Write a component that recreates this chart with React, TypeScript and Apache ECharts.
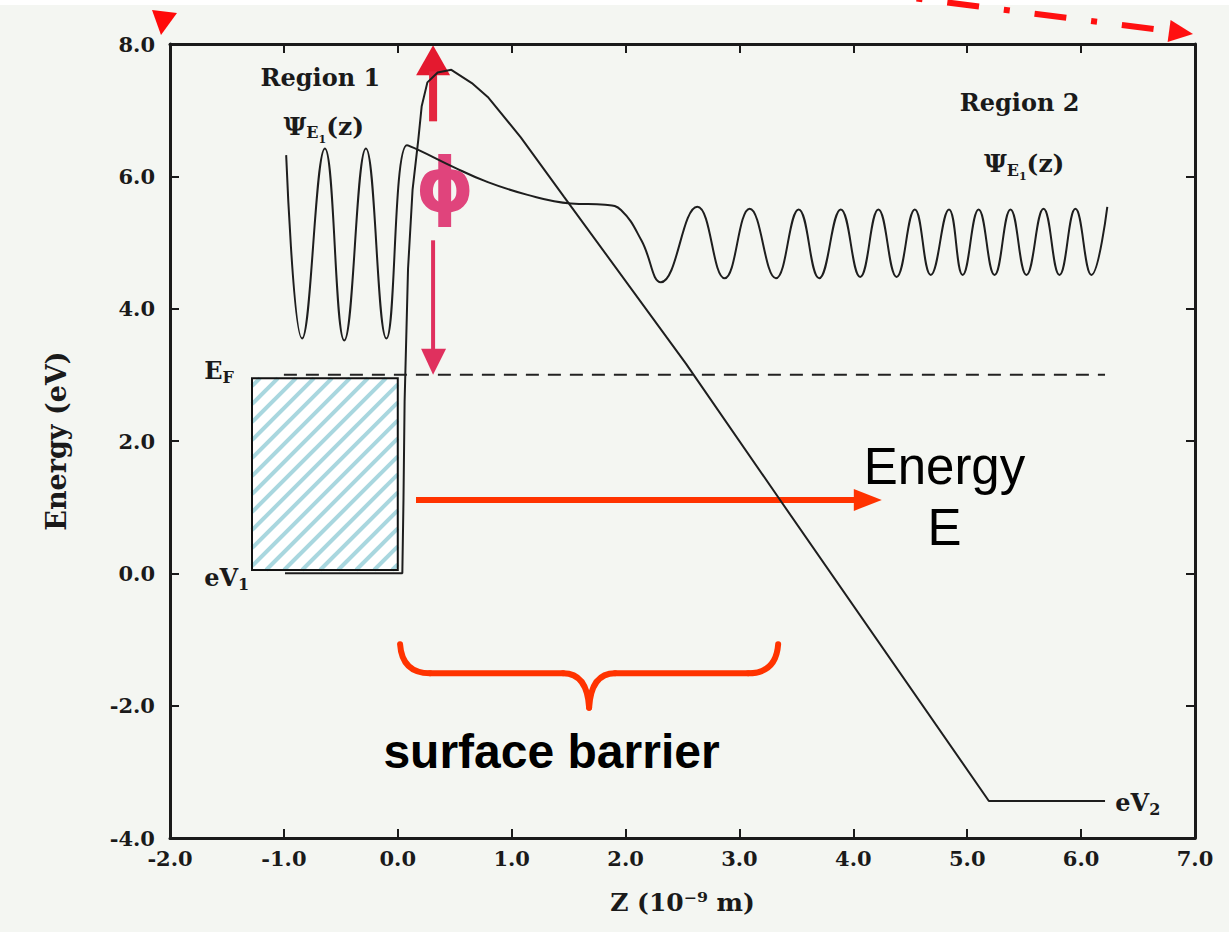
import React, { useEffect, useRef } from "react";
import * as echarts from "echarts";

// ---- Data (x in 10^-9 m, y in eV) ----
const xRange = [-2, 7];
const yRange = [-4, 8];
const potential: number[][] = [
  [-0.99, 0], [0.04, 0], [0.05, 1.1], [0.06, 2.6], [0.09, 4.6], [0.13, 5.8], [0.18, 6.55], [0.21, 7.06],
  [0.26, 7.42], [0.35, 7.57], [0.47, 7.61], [0.65, 7.41], [0.79, 7.2], [1.08, 6.59], [1.46, 5.69],
  [2.53, 3.17], [3.36, 1.1], [5.19, -3.44], [6.21, -3.44],
];
const wavefunction: number[][] = [
  [-0.98, 6.32], [-0.84, 3.55], [-0.64, 6.42], [-0.47, 3.52], [-0.28, 6.42], [-0.1, 3.55],
  [0.08, 6.47], [0.18, 6.4], [0.49, 6.14], [0.78, 5.92], [1.14, 5.72], [1.52, 5.59], [1.82, 5.57],
  [1.96, 5.49], [2.14, 5.03], [2.31, 4.4], [2.63, 5.54], [2.87, 4.46], [3.09, 5.51],
  [3.32, 4.46], [3.52, 5.5], [3.7, 4.46], [3.89, 5.5], [4.06, 4.48], [4.22, 5.5], [4.38, 4.48],
  [4.54, 5.5], [4.68, 4.51], [4.84, 5.5], [4.96, 4.51], [5.1, 5.5], [5.24, 4.51], [5.38, 5.5],
  [5.52, 4.51], [5.67, 5.51], [5.81, 4.51], [5.95, 5.51], [6.09, 4.51], [6.23, 5.54],
];
const fermiLevel = 3.0;
const fermiExtent = [-1.0, 6.21];
// occupied band box: [xStart, xEnd, yStart, yEnd]
const occupiedBand = [[-1.28, 0.0, 0.05, 2.95]];

// ---- Annotation anchors (data units) ----
const workFunctionArrow = { x: 0.31, top: 7.98 };
const energyArrow = { y: 1.11, from: 0.16, to: 4.25 };
const energyLabel = { x: 4.8, y1: 1.61, y2: 0.69 };
const barrierBrace = { from: 0.02, to: 3.34, endY: -1.07, barY: -1.51, tipY: -2.03 };
const barrierLabel = { x: 1.35, y: -2.7 };

const SERIF = "'DejaVu Serif', serif";
const SANS = "'Liberation Sans', Arial, sans-serif";
const INK = "#1a1a1a";

export default function App() {
  const ref = useRef<HTMLDivElement>(null);
  useEffect(() => {
    const chart = echarts.init(ref.current!, null, { renderer: "svg" });
    const labelStyle = { color: INK, fontFamily: SERIF, fontWeight: "bold", fontSize: 21 };
    const axisBase = {
      type: "value",
      axisLine: { show: true, onZero: false, lineStyle: { color: INK, width: 3 } },
      axisTick: { show: true, inside: true, length: 9, lineStyle: { color: INK, width: 2 } },
      splitLine: { show: false },
    };
    chart.setOption({
      animation: false,
      backgroundColor: "#f4f6f2",
      grid: { left: 170, right: 34, top: 44, bottom: 94 },
      xAxis: [
        {
          ...axisBase, min: xRange[0], max: xRange[1], interval: 1, position: "bottom",
          axisLabel: { ...labelStyle, margin: 10, formatter: (v: number) => v.toFixed(1) },
          name: "Z (10⁻⁹ m)", nameLocation: "middle", nameGap: 52,
          nameTextStyle: { ...labelStyle, fontSize: 25 },
        },
        { ...axisBase, min: xRange[0], max: xRange[1], interval: 1, position: "top", axisLabel: { show: false } },
      ],
      yAxis: [
        {
          ...axisBase, min: yRange[0], max: yRange[1], interval: 2, position: "left",
          axisLabel: { ...labelStyle, margin: 15, formatter: (v: number) => v.toFixed(1) },
          name: "Energy (eV)", nameLocation: "middle", nameGap: 100, nameRotate: 90,
          nameTextStyle: { ...labelStyle, fontSize: 27 },
        },
        { ...axisBase, min: yRange[0], max: yRange[1], interval: 2, position: "right", axisLabel: { show: false } },
      ],
      series: [
        {
          type: "custom",
          clip: false,
          data: occupiedBand,
          encode: { x: [0, 1], y: [2, 3] },
          renderItem: (_p: any, api: any) => {
            const tl = api.coord([api.value(0), api.value(3)]);
            const br = api.coord([api.value(1), api.value(2)]);
            const left = tl[0], top = tl[1], right = br[0], bottom = br[1];
            const children: any[] = [
              { type: "rect", shape: { x: left, y: top, width: right - left, height: bottom - top }, style: { fill: "#ffffff" } },
            ];
            const step = 18;
            for (let c = left + top + 8; c < right + bottom; c += step) {
              const xa = Math.max(left, c - bottom);
              const xb = Math.min(right, c - top);
              if (xb > xa) {
                children.push({
                  type: "line",
                  shape: { x1: xa, y1: c - xa, x2: xb, y2: c - xb },
                  style: { stroke: "#a9d7df", lineWidth: 4 },
                });
              }
            }
            children.push({
              type: "rect",
              shape: { x: left, y: top, width: right - left, height: bottom - top },
              style: { fill: "none", stroke: "#111", lineWidth: 2 },
            });
            return { type: "group", children };
          },
        },
        {
          type: "line",
          data: fermiExtent.map((x) => [x, fermiLevel]),
          symbol: "none",
          lineStyle: { color: "#222", width: 2, type: [13, 9] },
        },
        {
          type: "line",
          data: potential,
          symbol: "none",
          lineStyle: { color: "#1e1e1e", width: 2 },
        },
        {
          type: "line",
          data: wavefunction,
          symbol: "none",
          smooth: 0.45,
          lineStyle: { color: "#1e1e1e", width: 2 },
        },
      ],
    });

    const P = (x: number, y: number) => chart.convertToPixel({ gridIndex: 0 }, [x, y]) as number[];
    const g: any[] = [];
    // paper edge
    g.push({ type: "rect", shape: { x: 0, y: 0, width: 1229, height: 5 }, style: { fill: "#ffffff" } });
    // top-left arrowhead
    g.push({ type: "polygon", shape: { points: [[152, 10], [177, 13], [161, 35]] }, style: { fill: "#ff0a0a" } });
    // dash-dot arrow to top-right corner
    g.push({
      type: "line", shape: { x1: 860, y1: -8.8, x2: 1169, y2: 31 },
      style: { stroke: "#ff1010", lineWidth: 6, lineDash: [32, 25, 6, 25] },
    });
    g.push({ type: "polygon", shape: { points: [[1193, 34], [1170.6, 20], [1167.6, 42]] }, style: { fill: "#ff1010" } });

    // work function arrow with phi
    const [ax, aTop] = P(workFunctionArrow.x, workFunctionArrow.top);
    const aBot = P(workFunctionArrow.x, fermiLevel)[1];
    g.push({ type: "polygon", shape: { points: [[ax, aTop], [ax - 17, aTop + 30], [ax + 17, aTop + 30]] }, style: { fill: "#e4192f" } });
    g.push({ type: "line", shape: { x1: ax, y1: aTop + 26, x2: ax, y2: aTop + 76 }, style: { stroke: "#e4263f", lineWidth: 8 } });
    g.push({
      type: "text",
      style: {
        text: "ϕ", x: ax + 12, y: aTop + 140, fill: "#e0447c",
        fontFamily: "'DejaVu Sans', sans-serif", fontWeight: "bold", fontSize: 74,
        align: "center", verticalAlign: "middle", textAlign: "center", textVerticalAlign: "middle",
      },
    });
    g.push({ type: "line", shape: { x1: ax, y1: aTop + 195, x2: ax, y2: aBot - 22 }, style: { stroke: "#e0305e", lineWidth: 4 } });
    g.push({ type: "polygon", shape: { points: [[ax, aBot], [ax - 12, aBot - 26], [ax + 13, aBot - 26]] }, style: { fill: "#e0305e" } });

    // energy arrow
    const [ex0, ey] = P(energyArrow.from, energyArrow.y);
    const ex1 = P(energyArrow.to, energyArrow.y)[0];
    g.push({ type: "line", shape: { x1: ex0, y1: ey, x2: ex1 - 24, y2: ey }, style: { stroke: "#ff3300", lineWidth: 6 } });
    g.push({ type: "polygon", shape: { points: [[ex1, ey], [ex1 - 28, ey - 11], [ex1 - 28, ey + 11]] }, style: { fill: "#ff3300" } });
    const bigText = (text: string, p: number[], bold = false, size = 48) => ({
      type: "text",
      style: {
        text, x: p[0], y: p[1], fill: "#000", fontFamily: SANS, fontSize: size, fontWeight: bold ? "bold" : "normal",
        align: "center", verticalAlign: "middle", textAlign: "center", textVerticalAlign: "middle",
      },
    });
    g.push(bigText("Energy", P(energyLabel.x, energyLabel.y1), false, 51));
    g.push(bigText("E", P(energyLabel.x, energyLabel.y2), false, 51));

    // surface barrier brace
    const [Lx, Ly] = P(barrierBrace.from, barrierBrace.endY);
    const [Rx, Ry] = P(barrierBrace.to, barrierBrace.endY);
    const By = P(0, barrierBrace.barY)[1];
    const Tx = (Lx + Rx) / 2;
    const Ty = P(0, barrierBrace.tipY)[1];
    const braceStyle = { stroke: "#ff3300", lineWidth: 6, lineCap: "round", fill: "none" };
    g.push({ type: "bezierCurve", shape: { x1: Lx, y1: Ly, x2: Lx + 30, y2: By, cpx1: Lx + 2, cpy1: By }, style: braceStyle });
    g.push({ type: "line", shape: { x1: Lx + 30, y1: By, x2: Tx - 26, y2: By }, style: braceStyle });
    g.push({ type: "bezierCurve", shape: { x1: Tx - 26, y1: By, x2: Tx, y2: Ty, cpx1: Tx - 2, cpy1: By }, style: braceStyle });
    g.push({ type: "bezierCurve", shape: { x1: Tx, y1: Ty, x2: Tx + 26, y2: By, cpx1: Tx + 2, cpy1: By }, style: braceStyle });
    g.push({ type: "line", shape: { x1: Tx + 26, y1: By, x2: Rx - 30, y2: By }, style: braceStyle });
    g.push({ type: "bezierCurve", shape: { x1: Rx - 30, y1: By, x2: Rx, y2: Ry, cpx1: Rx - 2, cpy1: By }, style: braceStyle });
    g.push(bigText("surface barrier", P(barrierLabel.x, barrierLabel.y), true, 48));

    // plot labels
    const rich = {
      b: { fontFamily: SERIF, fontWeight: "bold", fontSize: 24, color: INK },
      p: { fontFamily: SERIF, fontWeight: "bold", fontSize: 25, color: INK },
      s: { fontFamily: SERIF, fontWeight: "bold", fontSize: 16, color: INK, padding: [13, 0, 0, 0] },
      ss: { fontFamily: SERIF, fontWeight: "bold", fontSize: 11, color: INK, padding: [26, 0, 0, 0] },
    };
    const label = (text: string, p: number[], align = "center") => ({
      type: "text",
      style: {
        text, x: p[0], y: p[1], fill: INK, fontFamily: SERIF, fontWeight: "bold", fontSize: 24, rich,
        align, verticalAlign: "middle", textAlign: align, textVerticalAlign: "middle",
      },
    });
    g.push(label("{b|Region 1}", P(-0.68, 7.5)));
    g.push(label("{p|Ψ}{s|E}{ss|1}{p|(z)}", P(-0.65, 6.76)));
    g.push(label("{b|Region 2}", P(5.46, 7.11)));
    g.push(label("{p|Ψ}{s|E}{ss|1}{p|(z)}", P(5.5, 6.19)));
    g.push(label("{b|E}{s|F}", P(-1.7, 3.06), "left"));
    g.push(label("{b|eV}{s|1}", P(-1.7, -0.07), "left"));
    g.push(label("{b|eV}{s|2}", P(6.3, -3.47), "left"));

    chart.setOption({ graphic: g });
    return () => chart.dispose();
  }, []);
  return <div ref={ref} style={{ position: "absolute", left: 0, top: 0, width: 1229, height: 932 }} />;
}
